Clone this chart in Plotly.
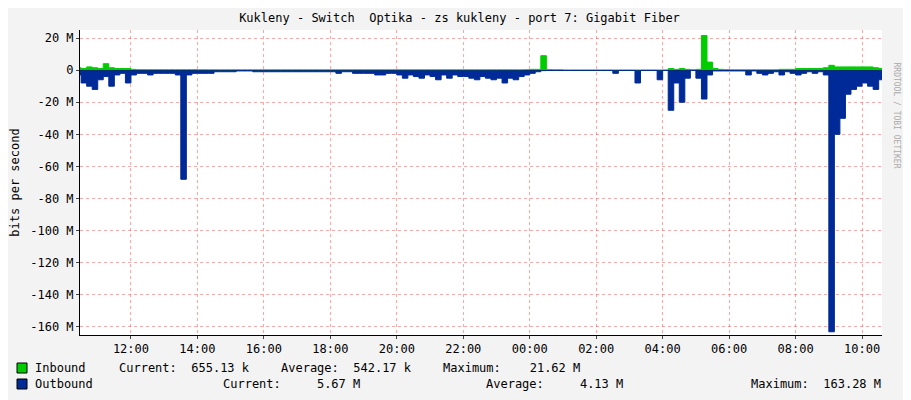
import pandas as pd
import plotly.graph_objects as go

# 10-minute samples starting 10:10, values in Mbit/s
start = "2024-01-01 10:10"
outbound = [
    5, 3, 8, 10, 12,                      # 10:10-10:50
    6, 4, 10, 3, 2, 8,                    # 11
    3, 2, 2, 3, 2, 2,                     # 12
    2, 2, 3, 68, 3, 2,                    # 13
    2, 2, 2, 1, 1, 1,                     # 14
    1, 0.5, 0.5, 0.5, 1, 1,               # 15
    1, 1, 1, 1, 1, 1,                     # 16
    1, 1, 1, 1, 1, 1,                     # 17
    1, 2, 1, 1, 2, 2,                     # 18
    2, 2, 3, 3, 2, 2,                     # 19
    3, 5, 3, 4, 5, 3,                     # 20
    4, 6, 3, 5, 3, 4,                     # 21
    4, 5, 6, 4, 5, 6,                     # 22
    5, 8, 5, 6, 4, 3,                     # 23
    2, 1, 0.3, 0.2, 0.2, 0.2,             # 00
    0.2, 0.2, 0.2, 0.2, 0.2, 0.2,         # 01
    0.2, 0.2, 0.2, 2, 0.2, 0.2,           # 02
    0.2, 8, 0.2, 0.2, 0.2, 6,             # 03
    0.2, 25, 8, 20, 5, 0.2,               # 04
    5, 18, 3, 0.5, 0.5, 0.5,              # 05
    0.5, 0.5, 0.5, 3, 0.5, 2,             # 06
    3, 2, 1, 3, 1, 2,                     # 07
    3, 2, 1, 2, 1, 3,                     # 08
    163, 40, 30, 15, 12, 10,              # 09
    8, 10, 12, 6, 5,                      # 10:00-10:40
]
inbound = [
    1, 1.5, 1, 2, 1.5,                    # 10:10-10:50
    1, 4, 1.5, 1, 1, 1,                   # 11
    0.5, 0.3, 0.3, 0.3, 0.3, 0.3,         # 12
    0.3, 0.3, 0.3, 0.3, 0.3, 0.3,         # 13
    0.2, 0.2, 0.2, 0.2, 0.2, 0.2,         # 14
    0.2, 0.2, 0.2, 0.2, 0.2, 0.2,         # 15
    0.2, 0.2, 0.2, 0.2, 0.2, 0.2,         # 16
    0.2, 0.2, 0.2, 0.2, 0.2, 0.2,         # 17
    0.2, 0.2, 0.2, 0.2, 0.2, 0.2,         # 18
    0.2, 0.2, 0.2, 0.2, 0.2, 0.2,         # 19
    0.2, 0.2, 0.2, 0.2, 0.2, 0.2,         # 20
    0.2, 0.2, 0.2, 0.2, 0.2, 0.2,         # 21
    0.2, 0.2, 0.2, 0.2, 0.2, 0.2,         # 22
    0.2, 0.2, 0.2, 0.2, 0.2, 0.3,         # 23
    0.5, 0.5, 9, 0.3, 0.2, 0.2,           # 00
    0.1, 0.1, 0.1, 0.1, 0.1, 0.1,         # 01
    0.1, 0.1, 0.1, 0.1, 0.1, 0.1,         # 02
    0.1, 0.1, 0.1, 0.1, 0.1, 0.1,         # 03
    0.1, 1, 0.5, 1, 0.5, 0.2,             # 04
    0.5, 21.6, 5, 1, 0.5, 0.3,            # 05
    0.2, 0.2, 0.2, 0.2, 0.2, 0.2,         # 06
    0.2, 0.2, 0.2, 0.5, 0.5, 0.5,         # 07
    1, 1, 1, 1, 1, 1.5,                   # 08
    3, 2, 2, 2, 2, 2,                     # 09
    2, 2, 1.5, 1, 1,                      # 10:00-10:40
]
times = pd.date_range(start, periods=len(outbound), freq="10min")

fig = go.Figure()
fig.add_trace(go.Scatter(x=times, y=inbound, fill="tozeroy", mode="lines",
                         line=dict(color="#00cc00", width=1, shape="hv"), fillcolor="#00cc00"))
fig.add_trace(go.Scatter(x=times, y=[-v for v in outbound], fill="tozeroy", mode="lines",
                         line=dict(color="#002a97", width=1, shape="hv"), fillcolor="#002a97"))

tickvals = list(range(20, -161, -20))
ticktext = ["%d M" % v if v else "0" for v in tickvals]
OFF = 8  # page offset of the figure in the browser
L, R, T, B = 80 - OFF, 882 - OFF, 30 - OFF, 335 - OFF
FW, FH = 911 - OFF, 400 - OFF
W, H = R - L, B - T
fig.update_layout(
    width=FW, height=FH, showlegend=False,
    paper_bgcolor="#f3f3f3", plot_bgcolor="white",
    margin=dict(l=L, r=FW - R, t=T, b=FH - B, autoexpand=False),
    font=dict(family="DejaVu Sans Mono", size=12, color="#000"),
    title=dict(text="Kukleny - Switch  Optika - zs kukleny - port 7: Gigabit Fiber",
               x=0.5, y=1 - 6 / FH, yanchor="top", xanchor="center", font=dict(size=12)),
    xaxis=dict(range=[pd.Timestamp("2024-01-01 10:28"), pd.Timestamp("2024-01-02 10:36")],
               tickformat="%H:%M", dtick=7200000, tick0="2024-01-01 12:00",
               showgrid=True, gridcolor="rgba(255,0,0,0.35)", griddash="dot",
               ticks="outside", ticklen=3, showline=True, linecolor="#000", automargin=False),
    yaxis=dict(range=[-165, 25], tickvals=tickvals, ticktext=ticktext, automargin=False,
               showgrid=True, gridcolor="rgba(255,0,0,0.35)", griddash="dot",
               zeroline=True, zerolinecolor="#000", zerolinewidth=1,
               title=dict(text="bits per second", standoff=14, font=dict(size=12)),
               ticks="outside", ticklen=3, showline=True, linecolor="#000"),
)
fig.add_annotation(text="RRDTOOL / TOBI OETIKER", textangle=90, xref="paper", yref="paper",
                   x=(903 - OFF - L) / W, y=1 - (60 - OFF - T) / H, showarrow=False,
                   font=dict(size=8, color="#aaa"))

legend_boxes = [("#00cc00", 368), ("#002a97", 384)]
legend_texts = [
    (33, 368, "Inbound"), (117, 368, "Current:  655.13 k"), (279, 368, "Average:  542.17 k"),
    (441, 368, "Maximum:    21.62 M"),
    (33, 384, "Outbound"), (221, 384, "Current:     5.67 M"), (484, 384, "Average:     4.13 M"),
    (749, 384, "Maximum:  163.28 M"),
]
for col, py in legend_boxes:
    py -= OFF
    fig.add_shape(type="rect", xref="paper", yref="paper",
                  x0=(17 - OFF - L) / W, x1=(27 - OFF - L) / W,
                  y0=1 - (py + 5 - T) / H, y1=1 - (py - 5 - T) / H,
                  fillcolor=col, line=dict(color="#000", width=1))
for px, py, txt in legend_texts:
    fig.add_annotation(text=txt.replace(" ", "&nbsp;"), xref="paper", yref="paper",
                       x=(px - OFF - L) / W, y=1 - (py - OFF - T) / H,
                       xanchor="left", yanchor="middle",
                       showarrow=False, font=dict(size=12))
fig.write_html("out.html")
